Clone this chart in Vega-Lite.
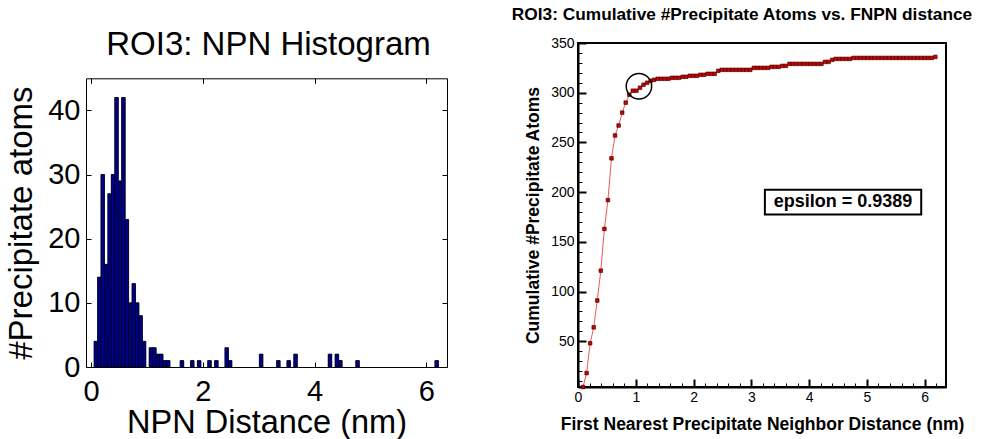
{
 "$schema": "https://vega.github.io/schema/vega-lite/v6.json",
 "background": "white",
 "padding": {"left": 5, "top": 4, "right": 5, "bottom": 0},
 "config": {
  "font": "Liberation Sans",
  "axis": {"labelColor": "black", "titleColor": "black", "domainColor": "black", "tickColor": "black", "grid": false, "labelFont": "Liberation Sans", "titleFont": "Liberation Sans", "labelFlush": false},
  "title": {"color": "black", "font": "Liberation Sans"}
 },
 "datasets": {
  "npn": [
   {"d": 0.087, "n": 4, "c": 4},
   {"d": 0.149, "n": 14, "c": 18},
   {"d": 0.210, "n": 30, "c": 48},
   {"d": 0.272, "n": 16, "c": 64},
   {"d": 0.333, "n": 27, "c": 91},
   {"d": 0.395, "n": 30, "c": 121},
   {"d": 0.457, "n": 42, "c": 163},
   {"d": 0.518, "n": 29, "c": 192},
   {"d": 0.580, "n": 42, "c": 234},
   {"d": 0.641, "n": 23, "c": 257},
   {"d": 0.703, "n": 10, "c": 267},
   {"d": 0.765, "n": 13, "c": 280},
   {"d": 0.826, "n": 10, "c": 290},
   {"d": 0.888, "n": 8, "c": 298},
   {"d": 0.949, "n": 4, "c": 302},
   {"d": 1.011, "n": 0, "c": 302},
   {"d": 1.073, "n": 3, "c": 305},
   {"d": 1.134, "n": 3, "c": 308},
   {"d": 1.196, "n": 2, "c": 310},
   {"d": 1.257, "n": 2, "c": 312},
   {"d": 1.319, "n": 1, "c": 313},
   {"d": 1.381, "n": 1, "c": 314},
   {"d": 1.442, "n": 0, "c": 314},
   {"d": 1.504, "n": 0, "c": 314},
   {"d": 1.565, "n": 0, "c": 314},
   {"d": 1.627, "n": 1, "c": 315},
   {"d": 1.689, "n": 0, "c": 315},
   {"d": 1.750, "n": 0, "c": 315},
   {"d": 1.812, "n": 1, "c": 316},
   {"d": 1.873, "n": 0, "c": 316},
   {"d": 1.935, "n": 1, "c": 317},
   {"d": 1.997, "n": 0, "c": 317},
   {"d": 2.058, "n": 0, "c": 317},
   {"d": 2.120, "n": 1, "c": 318},
   {"d": 2.181, "n": 0, "c": 318},
   {"d": 2.243, "n": 1, "c": 319},
   {"d": 2.305, "n": 0, "c": 319},
   {"d": 2.366, "n": 0, "c": 319},
   {"d": 2.428, "n": 3, "c": 322},
   {"d": 2.489, "n": 1, "c": 323},
   {"d": 2.551, "n": 0, "c": 323},
   {"d": 2.613, "n": 0, "c": 323},
   {"d": 2.674, "n": 0, "c": 323},
   {"d": 2.736, "n": 0, "c": 323},
   {"d": 2.797, "n": 0, "c": 323},
   {"d": 2.859, "n": 0, "c": 323},
   {"d": 2.921, "n": 0, "c": 323},
   {"d": 2.982, "n": 0, "c": 323},
   {"d": 3.044, "n": 2, "c": 325},
   {"d": 3.105, "n": 0, "c": 325},
   {"d": 3.167, "n": 0, "c": 325},
   {"d": 3.229, "n": 0, "c": 325},
   {"d": 3.290, "n": 0, "c": 325},
   {"d": 3.352, "n": 1, "c": 326},
   {"d": 3.413, "n": 0, "c": 326},
   {"d": 3.475, "n": 0, "c": 326},
   {"d": 3.537, "n": 1, "c": 327},
   {"d": 3.598, "n": 0, "c": 327},
   {"d": 3.660, "n": 2, "c": 329},
   {"d": 3.721, "n": 0, "c": 329},
   {"d": 3.783, "n": 0, "c": 329},
   {"d": 3.845, "n": 0, "c": 329},
   {"d": 3.906, "n": 0, "c": 329},
   {"d": 3.968, "n": 0, "c": 329},
   {"d": 4.029, "n": 0, "c": 329},
   {"d": 4.091, "n": 0, "c": 329},
   {"d": 4.153, "n": 0, "c": 329},
   {"d": 4.214, "n": 0, "c": 329},
   {"d": 4.276, "n": 2, "c": 331},
   {"d": 4.337, "n": 0, "c": 331},
   {"d": 4.399, "n": 2, "c": 333},
   {"d": 4.461, "n": 1, "c": 334},
   {"d": 4.522, "n": 0, "c": 334},
   {"d": 4.584, "n": 0, "c": 334},
   {"d": 4.645, "n": 0, "c": 334},
   {"d": 4.707, "n": 0, "c": 334},
   {"d": 4.769, "n": 1, "c": 335},
   {"d": 4.830, "n": 0, "c": 335},
   {"d": 4.892, "n": 0, "c": 335},
   {"d": 4.953, "n": 0, "c": 335},
   {"d": 5.015, "n": 0, "c": 335},
   {"d": 5.077, "n": 0, "c": 335},
   {"d": 5.138, "n": 0, "c": 335},
   {"d": 5.200, "n": 0, "c": 335},
   {"d": 5.261, "n": 0, "c": 335},
   {"d": 5.323, "n": 0, "c": 335},
   {"d": 5.385, "n": 0, "c": 335},
   {"d": 5.446, "n": 0, "c": 335},
   {"d": 5.508, "n": 0, "c": 335},
   {"d": 5.569, "n": 0, "c": 335},
   {"d": 5.631, "n": 0, "c": 335},
   {"d": 5.693, "n": 0, "c": 335},
   {"d": 5.754, "n": 0, "c": 335},
   {"d": 5.816, "n": 0, "c": 335},
   {"d": 5.877, "n": 0, "c": 335},
   {"d": 5.939, "n": 0, "c": 335},
   {"d": 6.001, "n": 0, "c": 335},
   {"d": 6.062, "n": 0, "c": 335},
   {"d": 6.124, "n": 0, "c": 335},
   {"d": 6.185, "n": 1, "c": 336}
  ]
 },
 "spacing": 62,
 "hconcat": [
  {
   "width": 361,
   "height": 324,
   "data": {"name": "npn"},
   "transform": [{"filter": "datum.n > 0"}],
   "title": {"text": "ROI3: NPN Histogram", "fontSize": 33, "fontWeight": "normal", "offset": -19, "anchor": "middle", "dx": 2},
   "view": {"stroke": null},
   "resolve": {"axis": {"x": "independent", "y": "independent"}},
   "layer": [
    {
     "mark": {"type": "bar", "width": 3.54, "fill": "#000080", "stroke": "black", "strokeWidth": 0.5},
     "encoding": {
      "x": {"field": "d", "type": "quantitative", "scale": {"domain": [0, 6.28], "nice": false, "zero": false},
       "axis": {"orient": "bottom", "values": [0, 2, 4, 6], "format": "d", "labelFontSize": 29, "tickSize": -5, "labelPadding": 15, "domain": true, "domainWidth": 1, "title": "NPN Distance (nm)", "titleFontSize": 32.5, "titleFontWeight": "normal", "titlePadding": 0}},
      "y": {"field": "n", "type": "quantitative", "scale": {"domain": [0, 45], "nice": false, "range": [324, 35.3]},
       "axis": {"orient": "left", "values": [0, 10, 20, 30, 40], "labelFontSize": 29, "tickSize": -5, "labelPadding": 11, "domain": true, "domainWidth": 1, "title": "#Precipitate atoms", "titleFontSize": 33, "titleFontWeight": "normal", "titlePadding": 9}}
     }
    },
    {
     "mark": {"type": "bar", "width": 3.54, "fill": "#000080", "stroke": "black", "strokeWidth": 0.5},
     "encoding": {
      "x": {"field": "d", "type": "quantitative",
       "axis": {"orient": "top", "offset": -35.3, "values": [0, 2, 4, 6], "labels": false, "tickSize": -5, "domain": true, "domainWidth": 1, "title": null}},
      "y": {"field": "n", "type": "quantitative",
       "axis": {"orient": "right", "values": [0, 10, 20, 30, 40], "labels": false, "tickSize": -5, "domain": true, "domainWidth": 1, "title": null}}
     }
    }
   ]
  },
  {
   "width": 368,
   "height": 344,
   "title": {"text": "ROI3: Cumulative #Precipitate Atoms vs. FNPN distance", "fontSize": 17.3, "fontWeight": "bold", "offset": 13, "anchor": "middle", "dx": -20},
   "view": {"stroke": "black", "strokeWidth": 2},
   "resolve": {"axis": {"x": "independent", "y": "independent"}},
   "layer": [
    {
     "data": {"name": "npn"},
     "mark": {"type": "line", "color": "#ea5a5a", "strokeWidth": 1},
     "encoding": {
      "x": {"field": "d", "type": "quantitative", "scale": {"domain": [0, 6.37], "nice": false, "zero": false},
       "axis": {"orient": "bottom", "values": [0, 1, 2, 3, 4, 5, 6], "format": "d", "labelFontSize": 14, "tickSize": -8, "tickWidth": 2, "labelPadding": 11, "domainWidth": 2, "title": "First Nearest Precipitate Neighbor Distance (nm)", "titleFontSize": 17.5, "titleFontWeight": "bold", "titlePadding": 11}},
      "y": {"field": "c", "type": "quantitative", "scale": {"domain": [4, 350], "nice": false, "zero": false},
       "axis": {"orient": "left", "values": [50, 100, 150, 200, 250, 300, 350], "labelFontSize": 14, "tickSize": -8, "tickWidth": 2, "labelPadding": 12, "domainWidth": 2, "title": "Cumulative #Precipitate Atoms", "titleFontSize": 17.5, "titleFontWeight": "bold", "titlePadding": 8}}
     }
    },
    {
     "data": {"name": "npn"},
     "mark": {"type": "point", "shape": "square", "filled": true, "size": 13, "fill": "#cc0000", "stroke": "#330000", "strokeWidth": 0.6, "opacity": 1},
     "encoding": {
      "x": {"field": "d", "type": "quantitative",
       "axis": {"orient": "bottom", "values": [0.2, 0.4, 0.6, 0.8, 1.2, 1.4, 1.6, 1.8, 2.2, 2.4, 2.6, 2.8, 3.2, 3.4, 3.6, 3.8, 4.2, 4.4, 4.6, 4.8, 5.2, 5.4, 5.6, 5.8, 6.2], "labels": false, "tickSize": -4, "tickWidth": 1, "domain": false, "title": null}},
      "y": {"field": "c", "type": "quantitative",
       "axis": {"orient": "left", "values": [10, 20, 30, 40, 60, 70, 80, 90, 110, 120, 130, 140, 160, 170, 180, 190, 210, 220, 230, 240, 260, 270, 280, 290, 310, 320, 330, 340], "labels": false, "tickSize": -4, "tickWidth": 1, "domain": false, "title": null}}
     }
    },
    {
     "data": {"values": [{"d": 1.055, "c": 306.5}]},
     "mark": {"type": "point", "shape": "circle", "filled": false, "size": 645, "stroke": "black", "strokeWidth": 1.5, "opacity": 1},
     "encoding": {
      "x": {"field": "d", "type": "quantitative", "axis": null},
      "y": {"field": "c", "type": "quantitative", "axis": null}
     }
    },
    {
     "data": {"values": [{"d0": 3.235, "d1": 5.941, "c0": 177.4, "c1": 202.5, "label": "epsilon = 0.9389", "dm": 4.588, "cm": 190}]},
     "layer": [
      {
       "mark": {"type": "rect", "fill": "white", "stroke": "black", "strokeWidth": 2},
       "encoding": {
        "x": {"field": "d0", "type": "quantitative", "axis": null},
        "x2": {"field": "d1"},
        "y": {"field": "c0", "type": "quantitative", "axis": null},
        "y2": {"field": "c1"}
       }
      },
      {
       "mark": {"type": "text", "fontSize": 18, "fontWeight": "bold", "font": "Liberation Sans", "color": "black", "align": "center", "baseline": "middle"},
       "encoding": {
        "x": {"field": "dm", "type": "quantitative", "axis": null},
        "y": {"field": "cm", "type": "quantitative", "axis": null},
        "text": {"field": "label"}
       }
      }
     ]
    }
   ]
  }
 ]
}
